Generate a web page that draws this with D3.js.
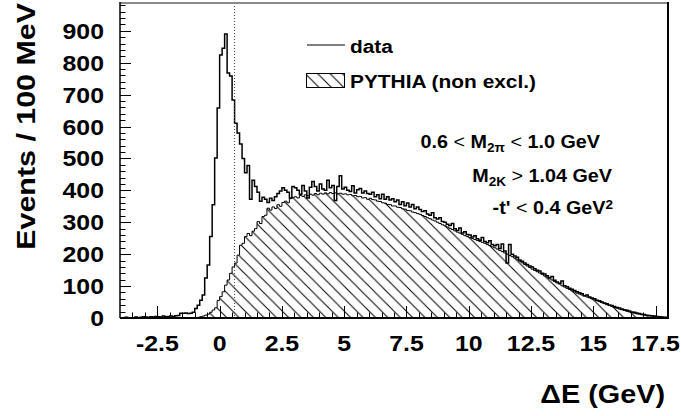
<!DOCTYPE html>
<html>
<head>
<meta charset="utf-8">
<script src="https://cdn.jsdelivr.net/npm/d3@7"></script>
<style>
  html, body { margin: 0; padding: 0; background: #fff; }
  svg { display: block; }
  text { font-family: "Liberation Sans", Arial, Helvetica, sans-serif; font-weight: bold; fill: #000; }
</style>
</head>
<body>
<svg id="chart" width="681" height="416"></svg>
<script>
// Histogram binning: 100 MeV bins starting at -4 GeV
const binWidth = 0.1;
const binStart = -4;

// Measured events per bin
const dataCounts = [
  1,0,2,1,0,1,3,1,2,4,
  3,2,4,3,5,4,3,6,4,5,
  6,5,7,8,15,15,16,14,15,18,
  30,40,56,72,125,166,255,355,501,658,
  824,845,890,768,758,683,610,580,545,500,
  455,478,372,432,412,394,366,378,372,362,
  375,368,380,390,398,408,400,394,376,412,
  408,400,388,415,398,376,410,428,412,398,
  420,404,400,432,408,415,368,412,446,404,
  410,400,396,414,392,402,406,392,398,390,
  388,394,380,386,374,388,372,380,370,374,
  364,370,356,364,352,360,348,356,342,348,
  340,334,336,326,322,330,314,310,314,302,
  300,294,290,296,280,274,282,266,270,262,
  260,254,258,248,244,252,240,236,242,230,
  226,230,218,232,210,172,230,200,194,190,
  182,178,172,168,163,160,154,150,147,140,
  138,132,126,130,118,113,109,116,101,98,
  93,90,86,82,79,76,70,72,66,63,
  60,56,54,50,47,45,41,39,36,33,
  31,28,26,24,22,19,18,16,14,12,
  11,9,8,7,6,5,4,3,2,2
];

// PYTHIA (non-exclusive) simulation per bin
const pythiaCounts = [
  0,0,0,0,0,0,0,0,0,0,
  0,0,0,0,0,0,0,0,0,0,
  0,0,0,0,0,0,0,0,0,1,
  1,2,4,6,9,12,18,25,32,55,
  67,82,103,119,140,160,172,197,228,234,
  255,265,258,272,280,302,296,318,322,344,
  338,348,343,355,350,362,366,361,374,378,
  380,376,384,381,386,383,388,385,390,386,
  391,388,392,389,393,390,392,389,391,388,
  389,386,387,383,384,380,381,376,377,372,
  375,371,370,366,365,361,360,356,355,351,
  351,347,346,342,341,337,336,332,330,327,
  325,321,318,314,311,307,304,300,296,292,
  289,285,281,277,273,269,266,262,258,255,
  252,249,246,243,240,237,234,230,227,223,
  220,216,212,208,204,200,196,192,188,184,
  178,173,168,163,158,153,149,145,141,137,
  132,128,123,119,114,110,106,101,97,93,
  89,85,82,78,75,72,69,66,63,60,
  57,54,51,48,45,42,39,36,33,31,
  28,26,24,21,19,17,15,13,12,10,
  9,8,7,6,5,4,3,3,2,1
];

const yTickValues = [0,100,200,300,400,500,600,700,800,900];
const xTickValues = [-2.5,0,2.5,5,7.5,10,12.5,15,17.5];
const xTickLabels = ["-2.5","0","2.5","5","7.5","10","12.5","15","17.5"];
const cutValue = 0.6;

const legendLabels = ["data", "PYTHIA (non excl.)"];
const xTitle = "\u0394E (GeV)";
const yTitle = "Events / 100 MeV";

// Frame geometry
const frame = { left: 120, right: 668, top: 3, bottom: 318 };
const xDomain = [-4, 18];
const yDomain = [0, 987];
const stretch = 1.13; // horizontal widening of the bold labels

const svg = d3.select("#chart");
const x = d3.scaleLinear().domain(xDomain).range([frame.left, frame.right]);
const y = d3.scaleLinear().domain(yDomain).range([frame.bottom, frame.top]);

// Hatch pattern for the simulation histogram
const defs = svg.append("defs");
const hs = 12.4;
const pat = defs.append("pattern")
  .attr("id", "hatch").attr("patternUnits", "userSpaceOnUse")
  .attr("width", hs).attr("height", hs)
  .attr("x", frame.left);
pat.append("path")
  .attr("d", `M0,0 L${hs},${hs} M${-hs/2},${hs/2} L${hs/2},${hs*1.5} M${hs/2},${-hs/2} L${hs*1.5},${hs/2}`)
  .attr("stroke", "#000").attr("stroke-width", 1);

function stepPoints(counts) {
  const pts = counts.map((v, i) => ({ e: binStart + i * binWidth, v }));
  pts.push({ e: binStart + counts.length * binWidth, v: counts[counts.length - 1] });
  return pts;
}

const clip = defs.append("clipPath").attr("id", "frameClip");
clip.append("rect").attr("x", frame.left).attr("y", frame.top)
  .attr("width", frame.right - frame.left).attr("height", frame.bottom - frame.top);

const plot = svg.append("g").attr("clip-path", "url(#frameClip)");

// PYTHIA: hatched step area with outline
const area = d3.area().curve(d3.curveStepAfter)
  .x(d => x(d.e)).y0(y(0)).y1(d => y(d.v));
const line = d3.line().curve(d3.curveStepAfter)
  .x(d => x(d.e)).y(d => y(d.v));

const pPts = stepPoints(pythiaCounts);
plot.append("path").attr("d", area(pPts)).attr("fill", "url(#hatch)").attr("stroke", "none");
plot.append("path").attr("d", line(pPts)).attr("fill", "none").attr("stroke", "#000").attr("stroke-width", 1);

// Data: step outline
plot.append("path").attr("d", line(stepPoints(dataCounts)))
  .attr("fill", "none").attr("stroke", "#000").attr("stroke-width", 1.5)
  .attr("stroke-linejoin", "miter");

// Dotted cut line
svg.append("line")
  .attr("x1", x(cutValue)).attr("x2", x(cutValue))
  .attr("y1", frame.top).attr("y2", frame.bottom)
  .attr("stroke", "#444").attr("stroke-width", 1).attr("stroke-dasharray", "1,2");

// Frame
svg.append("line").attr("x1", frame.left).attr("x2", frame.right).attr("y1", frame.top).attr("y2", frame.top)
  .attr("stroke", "#8a8a8a").attr("stroke-width", 2);
svg.append("line").attr("x1", frame.right).attr("x2", frame.right).attr("y1", frame.top - 1).attr("y2", frame.bottom)
  .attr("stroke", "#000").attr("stroke-width", 2);
svg.append("line").attr("x1", frame.left).attr("x2", frame.left).attr("y1", frame.top - 1).attr("y2", frame.bottom)
  .attr("stroke", "#000").attr("stroke-width", 1.5);
svg.append("line").attr("x1", frame.left).attr("x2", frame.right + 1).attr("y1", frame.bottom).attr("y2", frame.bottom)
  .attr("stroke", "#000").attr("stroke-width", 2);

// Ticks (inside the frame)
const yMinor = d3.range(0, yDomain[1], 20);
svg.append("g").selectAll("line").data(yMinor).join("line")
  .attr("x1", frame.left).attr("x2", d => frame.left + (d % 100 === 0 ? 11 : 5.5))
  .attr("y1", d => Math.round(y(d)) + 0.5).attr("y2", d => Math.round(y(d)) + 0.5)
  .attr("stroke", "#000").attr("stroke-width", 1);

const xMinor = d3.range(-3.5, 18, 0.5);
svg.append("g").selectAll("line").data(xMinor).join("line")
  .attr("x1", d => Math.round(x(d)) + 0.5).attr("x2", d => Math.round(x(d)) + 0.5)
  .attr("y1", frame.bottom)
  .attr("y2", d => frame.bottom - (Math.abs((d / 2.5) - Math.round(d / 2.5)) < 1e-6 ? 12 : 5.5))
  .attr("stroke", "#000").attr("stroke-width", 1);

// Text helper with horizontal widening
function label(parent, px, py, anchor, size, sx, rot) {
  const t = parent.append("text")
    .attr("transform", `translate(${px},${py})${rot ? ` rotate(${rot})` : ""} scale(${sx},1)`)
    .attr("text-anchor", anchor)
    .style("font-size", size + "px");
  return t;
}

// Y tick labels
yTickValues.forEach(v => {
  label(svg, 104, y(v) + 8, "end", 22, stretch).text(String(v));
});

// X tick labels
xTickValues.forEach((v, i) => {
  label(svg, x(v), 351, "middle", 22, stretch).text(xTickLabels[i]);
});

// Axis titles
label(svg, 665, 403, "end", 25.5, stretch).text(xTitle);
label(svg, 35, 3, "end", 26, 1.17, -90).text(yTitle);

// Legend
svg.append("line").attr("x1", 307).attr("x2", 345).attr("y1", 45).attr("y2", 45)
  .attr("stroke", "#000").attr("stroke-width", 1.2);
label(svg, 350, 53, "start", 18.5, stretch).text(legendLabels[0]);
svg.append("rect").attr("x", 306.5).attr("y", 73.5).attr("width", 38).attr("height", 14)
  .attr("fill", "url(#hatch)").attr("stroke", "#000").attr("stroke-width", 1);
label(svg, 350, 88, "start", 18.5, stretch).text(legendLabels[1]);

// Selection cuts
function cutLabel(px, py, parts) {
  const t = label(svg, px, py, "end", 17.5, stretch);
  parts.forEach(p => {
    const s = t.append("tspan").text(p.t);
    if (p.sub) s.attr("baseline-shift", "-28%").style("font-size", "12px");
    if (p.sup) s.attr("baseline-shift", "42%").style("font-size", "12px");
    if (p.thin) s.style("font-weight", "normal");
  });
}
cutLabel(600, 148, [
  { t: "0.6 " }, { t: "<", thin: true }, { t: " M" }, { t: "2\u03c0", sub: true },
  { t: " " }, { t: "<", thin: true }, { t: " 1.0 GeV" }
]);
cutLabel(612, 182, [
  { t: "M" }, { t: "2K", sub: true }, { t: " " }, { t: ">", thin: true }, { t: " 1.04 GeV" }
]);
cutLabel(613, 214, [
  { t: "-t' " }, { t: "<", thin: true }, { t: " 0.4 GeV" }, { t: "2", sup: true }
]);
</script>
</body>
</html>
